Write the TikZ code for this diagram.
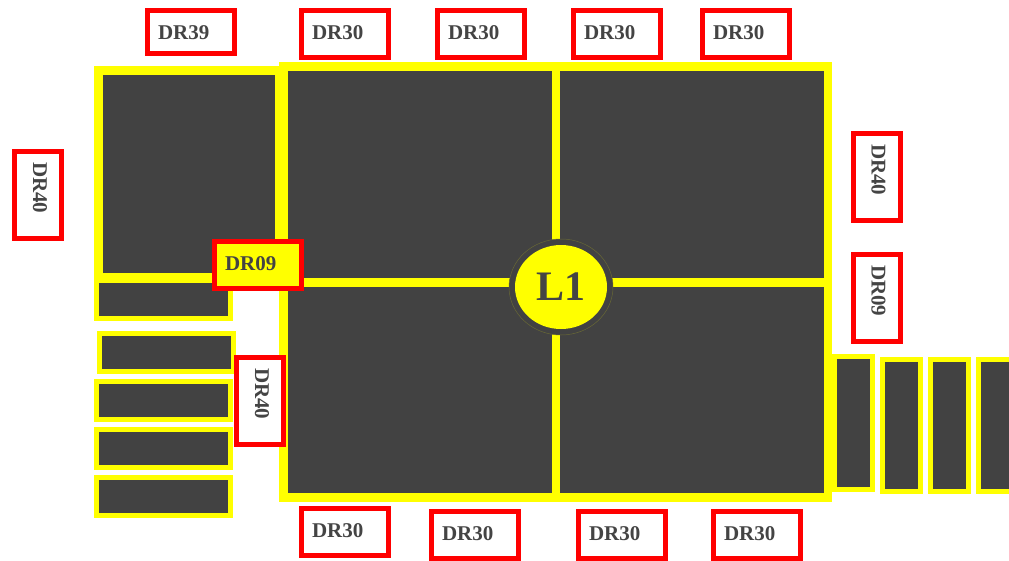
\documentclass[tikz,border=0pt]{standalone}
\usepackage{fontspec}
\setmainfont{Liberation Serif}
\usetikzlibrary{shapes.geometric}
\definecolor{roomgray}{HTML}{424242}
\definecolor{textgray}{HTML}{444444}
\definecolor{wallyellow}{RGB}{255,255,0}
\definecolor{doorred}{RGB}{255,0,0}
\tikzset{
  frame/.style={fill=wallyellow},
  room/.style={fill=roomgray},
  bay/.style={draw=wallyellow,fill=roomgray,line width=5pt},
  door/.style={draw=doorred,fill=white,line width=5pt,text=textgray,
    font=\fontsize{21}{21}\selectfont\bfseries,inner xsep=10.5pt,inner ysep=0pt,
    text width=66pt,align=left,text height=14pt,text depth=4pt,minimum height=47pt},
}
\begin{document}
\begin{tikzpicture}[x=1pt,y=-1pt]
\clip (0,0) rectangle (1009,560);
% big rooms
\fill[frame] (94,66) rectangle (284,278);
\fill[room] (103,75) rectangle (275,273);
\fill[frame] (279,62) rectangle (832,502);
\fill[room] (288,71) rectangle (552,278);
\fill[room] (560,71) rectangle (824,278);
\fill[room] (288,287) rectangle (552,493);
\fill[room] (560,287) rectangle (824,493);
% left bays
\draw[bay] (96.5,280.5) rectangle (230.5,318.5);
\draw[bay] (99.5,333.5) rectangle (233.5,371.5);
\draw[bay] (96.5,381.5) rectangle (230.5,419.5);
\draw[bay] (96.5,429.5) rectangle (230.5,467.5);
\draw[bay] (96.5,477.5) rectangle (230.5,515.5);
% right bays
\draw[bay] (834.5,356) rectangle (872.5,489);
\draw[bay] (882.5,359.5) rectangle (920.5,491);
\draw[bay] (930.5,359.5) rectangle (968.5,491);
\draw[bay] (978.5,359.5) rectangle (1016.5,491);
% centre
\node[ellipse,draw=roomgray!80!wallyellow,line width=0.5pt,fill=roomgray,inner sep=0pt,minimum width=104pt,minimum height=96pt] (ring) at (561,287) {};
\node[ellipse,fill=wallyellow,text=textgray,inner sep=0pt,minimum width=92pt,minimum height=84pt,font=\fontsize{42}{42}\selectfont\bfseries] (lone) at (ring) {L1};
% doors
\node[door,minimum height=43pt,text depth=0pt] (dtopa) at (191,32) {DR39};
\node[door] (dtopb) at (345,34) {DR30};
\node[door] (dtopc) at (481,34) {DR30};
\node[door] (dtopd) at (617,34) {DR30};
\node[door] (dtope) at (746,34) {DR30};
\node[door] (dbota) at (345,532) {DR30};
\node[door] (dbotb) at (475,535) {DR30};
\node[door] (dbotc) at (622,535) {DR30};
\node[door] (dbotd) at (757,535) {DR30};
\node[door,rotate=-90] (dleft) at (38,195) {DR40};
\node[door,rotate=-90] (dinner) at (260,401) {DR40};
\node[door,rotate=-90] (drighta) at (876.5,177) {DR40};
\node[door,rotate=-90] (drightb) at (876.5,298) {DR09};
\node[door,fill=wallyellow] (dmid) at (258,265) {DR09};
\end{tikzpicture}
\end{document}
